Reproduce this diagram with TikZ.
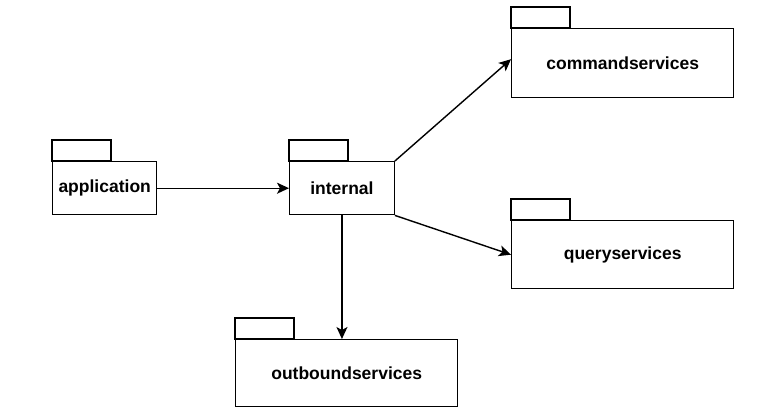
\documentclass[tikz,border=0pt]{standalone}
\usepackage{fontspec}
\setmainfont{Liberation Sans}
\usetikzlibrary{arrows.meta}

\tikzset{
  pkg/.style={draw, line width=1.4pt, anchor=north west, inner sep=0pt,
    font=\bfseries\fontsize{17.5}{20}\selectfont},
  pkgtab/.style={draw, line width=1.4pt},
  dep/.style={line width=1.4pt, -{Stealth[length=12pt, width=11pt, inset=3pt]}}
}

\begin{document}
\begin{tikzpicture}[x=1pt,y=1pt,yscale=-1,xscale=1]
\useasboundingbox (0,0) rectangle (759,413);

% Package bodies
\node [pkg, minimum width=104, minimum height=53] (application) at (52,161) {application};
\node [pkg, minimum width=104.5, minimum height=53] (internal) at (289,161) {internal};
\node [pkg, minimum width=222, minimum height=69] (commandservices) at (511,28) {commandservices};
\node [pkg, minimum width=222, minimum height=68] (queryservices) at (511,220) {queryservices};
\node [pkg, minimum width=222, minimum height=67] (outboundservices) at (235,339) {outboundservices};

% Package tabs
\foreach \p in {application, internal, commandservices, queryservices, outboundservices}
  \draw [pkgtab] (\p.north west) rectangle ++(59,-21);

% Dependencies
\draw [dep] (application.east) -- (internal.west);
\draw [dep] (internal.north east) -- ([yshift=-4pt]commandservices.west);
\draw [dep] (internal.south east) -- (queryservices.west);
\draw [dep] (internal.south) -- (internal.south |- outboundservices.north);

\end{tikzpicture}
\end{document}
